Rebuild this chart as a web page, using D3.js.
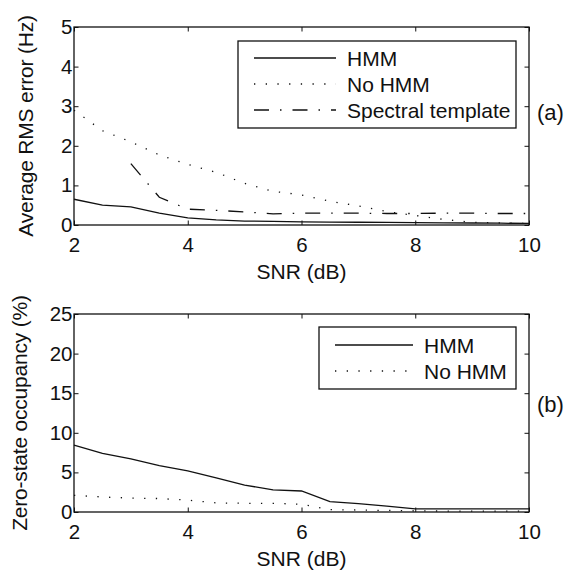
<!DOCTYPE html>
<html><head><meta charset="utf-8">
<script src="https://cdn.jsdelivr.net/npm/d3@7"></script>
<style>
body{margin:0;background:#fff;}
text{font-family:"Liberation Sans",Arial,sans-serif;fill:#111;}
</style></head>
<body><svg id="c" width="573" height="576"></svg>
<script>
// ---- data ----
const snr = [2,2.5,3,3.5,4,4.5,5,5.5,6,6.5,7,7.5,8,8.5,9,9.5,10];
const rmsHMM = [0.65,0.5,0.46,0.3,0.18,0.13,0.1,0.09,0.08,0.075,0.07,0.065,0.06,0.055,0.05,0.045,0.04];
const rmsNoHMM = [2.9,2.38,2.1,1.77,1.53,1.33,1.05,0.85,0.76,0.6,0.48,0.34,0.24,0.14,0.07,0.05,0.04];
const rmsSpectral = [null,null,1.55,0.7,0.4,0.37,0.33,0.28,0.3,0.3,0.3,0.29,0.29,0.3,0.3,0.29,0.29];
const occHMM = [8.45,7.4,6.7,5.85,5.2,4.3,3.4,2.8,2.65,1.3,1.05,0.75,0.4,0.4,0.4,0.4,0.4];
const occNoHMM = [2.1,1.9,1.75,1.7,1.5,1.15,1.1,1.1,0.97,0.3,0.25,0.2,0.15,0.12,0.1,0.1,0.1];
const xTicks = [2,4,6,8,10];
const yTicksA = [0,1,2,3,4,5];
const yTicksB = [0,5,10,15,20,25];
const legendA = ["HMM","No HMM","Spectral template"];
const legendB = ["HMM","No HMM"];

const svg = d3.select("#c");
const FS = 21, TFS = 20.5;
const styles = {
  solid: {dash:null, w:1.3},
  dotted: {dash:"1.3,10.4", w:1.3},
  dashdot: {dash:"15,11,1.5,11", w:1.3}
};

function panel(opt){
  const L=74,R=529,T=opt.top,B=opt.top+198;
  const x=d3.scaleLinear().domain([2,10]).range([L,R]);
  const y=d3.scaleLinear().domain(opt.ydom).range([B,T]);
  const g=svg.append("g");
  const tl=4.5;
  const ax=(gen,tr)=>g.append("g").attr("transform",tr).call(gen);
  const bottom=ax(d3.axisBottom(x).tickValues(xTicks).tickSize(-tl).tickPadding(12).tickFormat(d3.format("d")),`translate(0,${B})`);
  const top=ax(d3.axisTop(x).tickValues(xTicks).tickSize(-tl).tickFormat(""),`translate(0,${T})`);
  const left=ax(d3.axisLeft(y).tickValues(opt.yticks).tickSize(-tl).tickPadding(1.5).tickFormat(d3.format("d")),`translate(${L},0)`);
  const right=ax(d3.axisRight(y).tickValues(opt.yticks).tickSize(-tl).tickFormat(""),`translate(${R},0)`);
  [bottom,top,left,right].forEach(a=>{
    a.select(".domain").remove();
    a.selectAll(".tick line").attr("stroke","#111").attr("stroke-width",1);
    a.selectAll(".tick text").attr("font-size",TFS).style("font-family","'Liberation Sans',Arial,sans-serif").attr("fill","#111");
  });
  bottom.selectAll(".tick text").attr("dy","0.71em").attr("y",12);
  g.append("rect").attr("x",L).attr("y",T).attr("width",R-L).attr("height",B-T)
    .attr("fill","none").attr("stroke","#111").attr("stroke-width",1.3);
  const line=d3.line().defined(d=>d[1]!=null).x(d=>x(d[0])).y(d=>y(d[1]));
  opt.series.forEach(s=>{
    const st=styles[s.style];
    g.append("path").datum(snr.map((v,i)=>[v,s.values[i]]))
      .attr("d",line).attr("fill","none").attr("stroke","#111")
      .attr("stroke-width",st.w).attr("stroke-dasharray",st.dash);
  });
  g.append("text").attr("x",(L+R)/2).attr("y",B+54).attr("text-anchor","middle")
    .attr("font-size",FS).text("SNR (dB)");
  g.append("text").attr("transform",`translate(${opt.ylabX},${(T+B)/2}) rotate(-90)`)
    .attr("text-anchor","middle").attr("font-size",FS).attr("letter-spacing","-0.2").text(opt.ylabel);
  g.append("text").attr("x",537).attr("y",opt.tagY).attr("dy","0.35em").attr("font-size",22).text(opt.tag);
  const lg=opt.legend;
  g.append("rect").attr("x",lg.x0).attr("y",lg.y0).attr("width",lg.x1-lg.x0).attr("height",lg.y1-lg.y0)
    .attr("fill","#fff").attr("stroke","#111").attr("stroke-width",1.3);
  opt.series.forEach((s,i)=>{
    const yy=lg.row0+i*26, st=styles[s.style];
    g.append("line").attr("x1",lg.l0).attr("x2",lg.l1).attr("y1",yy).attr("y2",yy)
      .attr("stroke","#111").attr("stroke-width",st.w).attr("stroke-dasharray",st.dash);
    g.append("text").attr("x",lg.tx).attr("y",yy).attr("dy","0.36em").attr("font-size",FS)
      .text(s.name);
  });
}

panel({top:27,ydom:[0,5],yticks:yTicksA,ylabel:"Average RMS error (Hz)",ylabX:33,tag:"(a)",tagY:112,
  legend:{x0:238,x1:516,y0:41,y1:128,row0:58,l0:254,l1:336,tx:347},
  series:[{name:legendA[0],values:rmsHMM,style:"solid"},{name:legendA[1],values:rmsNoHMM,style:"dotted"},{name:legendA[2],values:rmsSpectral,style:"dashdot"}]});
panel({top:314,ydom:[0,25],yticks:yTicksB,ylabel:"Zero-state occupancy (%)",ylabX:27,tag:"(b)",tagY:404,
  legend:{x0:319,x1:516,y0:327,y1:389,row0:345,l0:335,l1:413,tx:424},
  series:[{name:legendB[0],values:occHMM,style:"solid"},{name:legendB[1],values:occNoHMM,style:"dotted"}]});
</script></body></html>
